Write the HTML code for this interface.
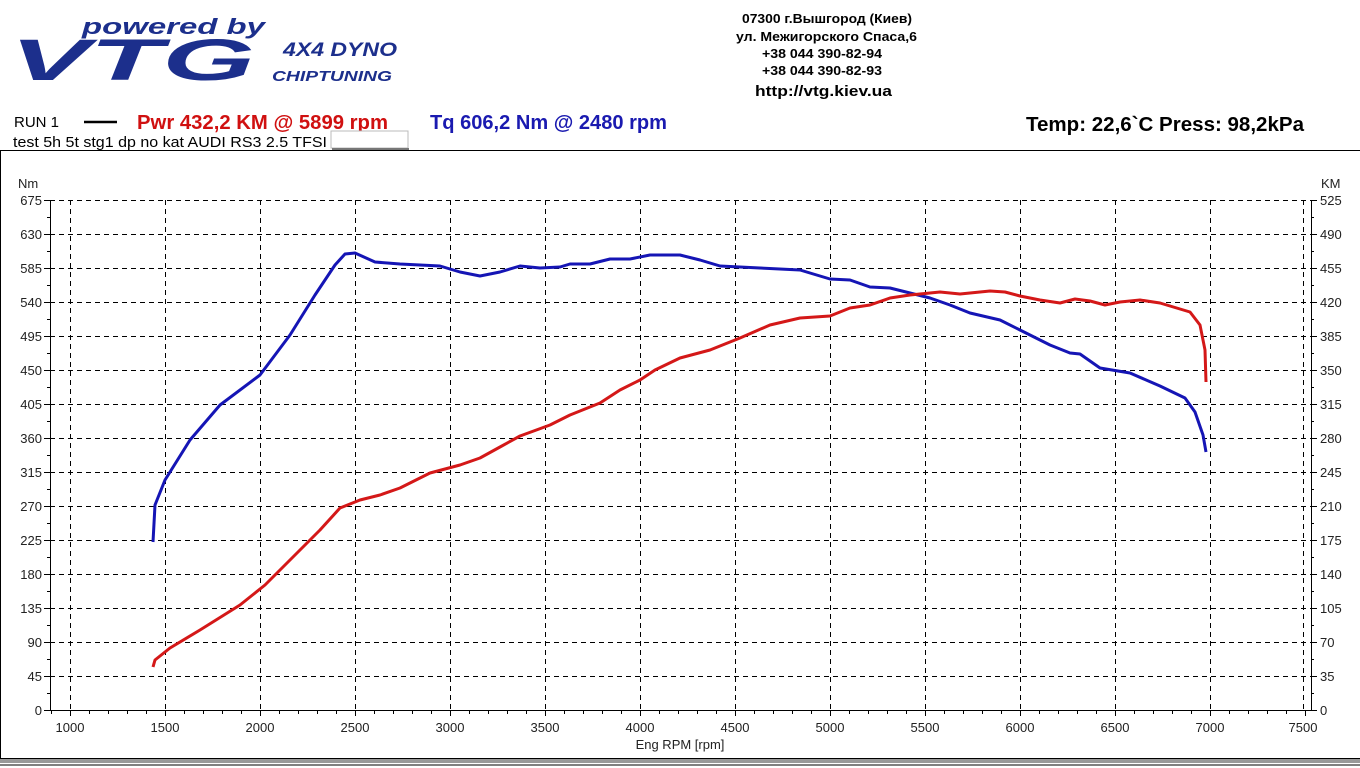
<!DOCTYPE html>
<html><head><meta charset="utf-8"><style>
html,body{margin:0;padding:0;background:#fff;width:1360px;height:768px;overflow:hidden}
svg{display:block}
.n{font-family:"Liberation Sans",sans-serif;font-weight:bold}
.t{font-family:"Liberation Sans",sans-serif;font-size:13px;fill:#222}
</style></head><body>
<svg width="1360" height="768" xmlns="http://www.w3.org/2000/svg">
<!-- logo -->
<text x="82" y="34" font-family="Liberation Sans,sans-serif" font-style="italic" font-weight="bold" font-size="22" fill="#1c2f8c" textLength="183" lengthAdjust="spacingAndGlyphs">powered by</text>
<text x="10" y="80" font-family="Liberation Sans,sans-serif" font-style="italic" font-weight="bold" font-size="58" fill="#1c2f8c" textLength="245" lengthAdjust="spacingAndGlyphs">VTG</text>
<text x="283" y="56" font-family="Liberation Sans,sans-serif" font-style="italic" font-weight="bold" font-size="19" fill="#1c2f8c" textLength="114" lengthAdjust="spacingAndGlyphs">4X4 DYNO</text>
<text x="272" y="81" font-family="Liberation Sans,sans-serif" font-style="italic" font-weight="bold" font-size="15" fill="#1c2f8c" textLength="120" lengthAdjust="spacingAndGlyphs">CHIPTUNING</text>
<!-- address -->
<g class="n" font-size="13" fill="#000" lengthAdjust="spacingAndGlyphs">
<text x="742" y="23" textLength="170" lengthAdjust="spacingAndGlyphs">07300 г.Вышгород (Киев)</text>
<text x="736" y="41" textLength="181" lengthAdjust="spacingAndGlyphs">ул. Межигорского Спаса,6</text>
<text x="762" y="58" textLength="120" lengthAdjust="spacingAndGlyphs">+38 044 390-82-94</text>
<text x="762" y="75" textLength="120" lengthAdjust="spacingAndGlyphs">+38 044 390-82-93</text>
<text x="755" y="96" font-size="15" textLength="137" lengthAdjust="spacingAndGlyphs">http://vtg.kiev.ua</text>
</g>
<!-- title row -->
<text x="14" y="127" font-family="Liberation Sans,sans-serif" font-size="15" fill="#000">RUN 1</text>
<line x1="84" y1="122" x2="117" y2="122" stroke="#000" stroke-width="2.5"/>
<text x="137" y="129" class="n" font-size="20" fill="#d01010" textLength="251" lengthAdjust="spacingAndGlyphs">Pwr  432,2 KM @ 5899 rpm</text>
<text x="430" y="129" class="n" font-size="20" fill="#1a1ab0" textLength="237" lengthAdjust="spacingAndGlyphs">Tq 606,2 Nm @ 2480 rpm</text>
<text x="1026" y="131" class="n" font-size="20" fill="#000" textLength="278" lengthAdjust="spacingAndGlyphs">Temp: 22,6`C   Press: 98,2kPa</text>
<text x="13" y="147" font-family="Liberation Sans,sans-serif" font-size="15" fill="#000" textLength="314" lengthAdjust="spacingAndGlyphs">test  5h 5t  stg1  dp no kat AUDI RS3 2.5 TFSI</text>
<!-- frame -->
<rect x="0.5" y="150.5" width="1360" height="608" fill="none" stroke="#000"/>
<rect x="0" y="759" width="1360" height="4" fill="#999"/>
<line x1="0" y1="765" x2="1360" y2="765" stroke="#000"/>
<rect x="331" y="131" width="77" height="17" fill="#fff" stroke="#bbb"/>
<line x1="332" y1="149" x2="409" y2="149" stroke="#777" stroke-width="2"/>
<!-- grid -->
<g stroke="#000" stroke-dasharray="5,4" stroke-width="1" fill="none">
<path d="M70.5 200V710M165.5 200V710M260.5 200V710M355.5 200V710M450.5 200V710M545.5 200V710M640.5 200V710M735.5 200V710M830.5 200V710M925.5 200V710M1020.5 200V710M1115.5 200V710M1210.5 200V710M1303.5 200V710"/>
<path d="M50 200.5H1311M50 234.5H1311M50 268.5H1311M50 302.5H1311M50 336.5H1311M50 370.5H1311M50 404.5H1311M50 438.5H1311M50 472.5H1311M50 506.5H1311M50 540.5H1311M50 574.5H1311M50 608.5H1311M50 642.5H1311M50 676.5H1311"/>
</g>
<!-- axes -->
<g stroke="#000" stroke-width="1" fill="none">
<path d="M50.5 200V710.5H1311.5V200"/>
<path d="M44 200.5h6M44 234.5h6M44 268.5h6M44 302.5h6M44 336.5h6M44 370.5h6M44 404.5h6M44 438.5h6M44 472.5h6M44 506.5h6M44 540.5h6M44 574.5h6M44 608.5h6M44 642.5h6M44 676.5h6M44 710.5h6M47 217.5h3M47 251.5h3M47 285.5h3M47 319.5h3M47 353.5h3M47 387.5h3M47 421.5h3M47 455.5h3M47 489.5h3M47 523.5h3M47 557.5h3M47 591.5h3M47 625.5h3M47 659.5h3M47 693.5h3"/>
<path d="M1311 200.5h6M1311 234.5h6M1311 268.5h6M1311 302.5h6M1311 336.5h6M1311 370.5h6M1311 404.5h6M1311 438.5h6M1311 472.5h6M1311 506.5h6M1311 540.5h6M1311 574.5h6M1311 608.5h6M1311 642.5h6M1311 676.5h6M1311 710.5h6M1311 217.5h3M1311 251.5h3M1311 285.5h3M1311 319.5h3M1311 353.5h3M1311 387.5h3M1311 421.5h3M1311 455.5h3M1311 489.5h3M1311 523.5h3M1311 557.5h3M1311 591.5h3M1311 625.5h3M1311 659.5h3M1311 693.5h3"/>
</g>
<g stroke="#000" id="xt"></g>
<g class="t" text-anchor="end">
<text x="18" y="188" text-anchor="start">Nm</text>
<text x="42" y="205">675</text><text x="42" y="239">630</text><text x="42" y="273">585</text><text x="42" y="307">540</text><text x="42" y="341">495</text><text x="42" y="375">450</text><text x="42" y="409">405</text><text x="42" y="443">360</text><text x="42" y="477">315</text><text x="42" y="511">270</text><text x="42" y="545">225</text><text x="42" y="579">180</text><text x="42" y="613">135</text><text x="42" y="647">90</text><text x="42" y="681">45</text><text x="42" y="715">0</text>
</g>
<g class="t">
<text x="1321" y="188">KM</text>
<text x="1320" y="205">525</text><text x="1320" y="239">490</text><text x="1320" y="273">455</text><text x="1320" y="307">420</text><text x="1320" y="341">385</text><text x="1320" y="375">350</text><text x="1320" y="409">315</text><text x="1320" y="443">280</text><text x="1320" y="477">245</text><text x="1320" y="511">210</text><text x="1320" y="545">175</text><text x="1320" y="579">140</text><text x="1320" y="613">105</text><text x="1320" y="647">70</text><text x="1320" y="681">35</text><text x="1320" y="715">0</text>
</g>
<g class="t" text-anchor="middle">
<text x="70" y="732">1000</text><text x="165" y="732">1500</text><text x="260" y="732">2000</text><text x="355" y="732">2500</text><text x="450" y="732">3000</text><text x="545" y="732">3500</text><text x="640" y="732">4000</text><text x="735" y="732">4500</text><text x="830" y="732">5000</text><text x="925" y="732">5500</text><text x="1020" y="732">6000</text><text x="1115" y="732">6500</text><text x="1210" y="732">7000</text><text x="1303" y="732">7500</text>
<text x="680" y="749">Eng RPM [rpm]</text>
</g>
<!-- curves -->
<polyline fill="none" stroke="#1515b5" stroke-width="3" stroke-linejoin="round" points="153,542 155,505 165,480 190,440 220,405 260,375 290,335 315,295 335,265 345,254 355,253 375,262 400,264 440,266 460,272 480,276 500,272 520,266 540,268 560,267 570,264 590,264 610,259 630,259 650,255 680,255 700,260 720,266 760,268 800,270 830,279 850,280 870,287 890,288 910,293 930,298 950,305 970,313 1000,320 1020,330 1050,345 1070,353 1080,354 1100,368 1130,373 1160,386 1185,398 1195,412 1203,435 1206,452"/>
<polyline fill="none" stroke="#d41818" stroke-width="3" stroke-linejoin="round" points="153,667 155,660 170,648 200,630 240,605 265,585 290,560 320,530 340,508 360,500 380,495 400,488 430,473 460,465 480,458 500,447 520,436 550,425 570,415 600,403 620,390 640,380 655,370 680,358 710,350 740,338 770,325 800,318 830,316 850,308 870,305 890,298 910,295 940,292 960,294 990,291 1005,292 1020,296 1040,300 1060,303 1075,299 1090,301 1105,305 1120,302 1140,300 1160,303 1190,312 1200,325 1205,350 1206,382"/>
</svg>
<script>
var g=document.getElementById('xt'),s='';
for(var r=900;r<=7500;r+=100){var x=70+(r-1000)*0.19;var big=r%500==0;s+='<line x1="'+(Math.round(x)+.5)+'" y1="710" x2="'+(Math.round(x)+.5)+'" y2="'+(big?716:714)+'"/>';}
g.innerHTML=s;
</script>
</body></html>
